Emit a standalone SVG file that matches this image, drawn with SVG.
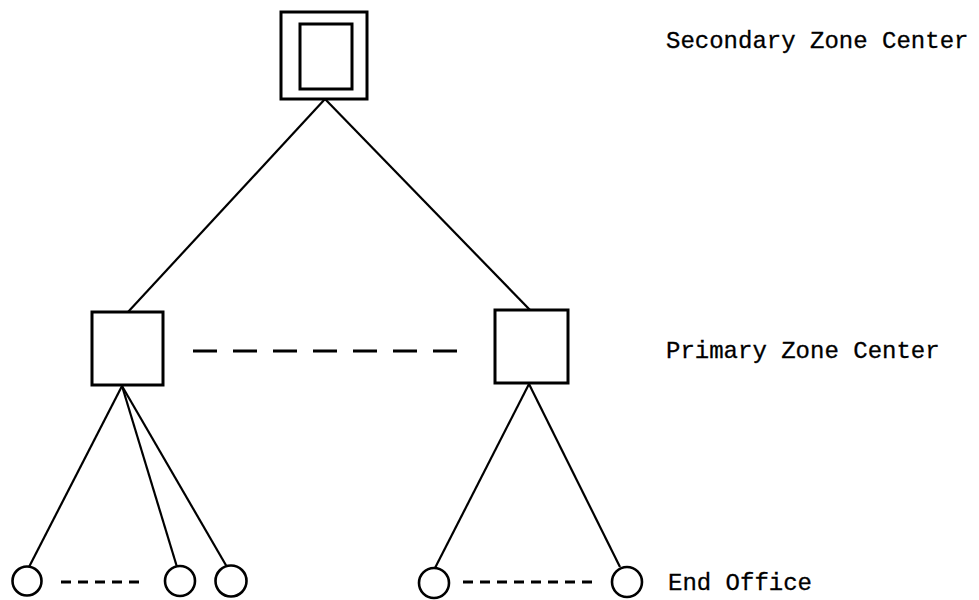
<svg xmlns="http://www.w3.org/2000/svg" width="979" height="600" viewBox="0 0 979 600">
  <style>
    .box { fill: #fff; stroke: #000; stroke-width: 3; }
    .office { fill: #fff; stroke: #000; stroke-width: 2.6; }
    .link { stroke: #000; stroke-width: 2.2; fill: none; }
    .trunk { stroke: #000; stroke-width: 3; fill: none; stroke-dasharray: 24 16; }
    .local { stroke: #000; stroke-width: 3; fill: none; stroke-dasharray: 10 7; }
    .label { font-family: "Liberation Mono", "DejaVu Sans Mono", monospace; font-size: 24px; fill: #000; stroke: #000; stroke-width: 0.3; }
  </style>
  <rect width="979" height="600" fill="#fff"/>

  <!-- connectors -->
  <g id="connectors">
    <line class="link" x1="325" y1="99" x2="128" y2="312"/>
    <line class="link" x1="325" y1="99" x2="530" y2="310"/>
    <line class="link" x1="122" y1="386" x2="29" y2="567"/>
    <line class="link" x1="122" y1="386" x2="177" y2="567"/>
    <line class="link" x1="122" y1="386" x2="227" y2="567"/>
    <line class="link" x1="529" y1="384" x2="435" y2="568"/>
    <line class="link" x1="529" y1="384" x2="620" y2="567"/>
    <line class="trunk" x1="193" y1="351" x2="458" y2="351"/>
    <line class="local" x1="61" y1="582" x2="146" y2="582"/>
    <line class="local" x1="463" y1="582" x2="598" y2="582"/>
  </g>

  <!-- secondary zone center -->
  <g id="secondary">
    <rect class="box" x="281" y="12" width="86" height="87"/>
    <rect class="box" x="300" y="24" width="52" height="65"/>
  </g>

  <!-- primary zone centers -->
  <g id="primary-left">
    <rect class="box" x="92" y="312" width="71" height="73"/>
  </g>
  <g id="primary-right">
    <rect class="box" x="495" y="310" width="73" height="73"/>
  </g>

  <!-- end offices -->
  <g id="office-1"><circle class="office" cx="27" cy="581" r="14.5"/></g>
  <g id="office-2"><circle class="office" cx="180" cy="581" r="15"/></g>
  <g id="office-3"><circle class="office" cx="231" cy="581" r="15.5"/></g>
  <g id="office-4"><circle class="office" cx="434" cy="583" r="15"/></g>
  <g id="office-5"><circle class="office" cx="627" cy="582" r="15"/></g>

  <!-- level labels -->
  <g id="labels">
    <text class="label" x="666" y="48">Secondary Zone Center</text>
    <text class="label" x="666" y="358">Primary Zone Center</text>
    <text class="label" x="668" y="590">End Office</text>
  </g>
</svg>
